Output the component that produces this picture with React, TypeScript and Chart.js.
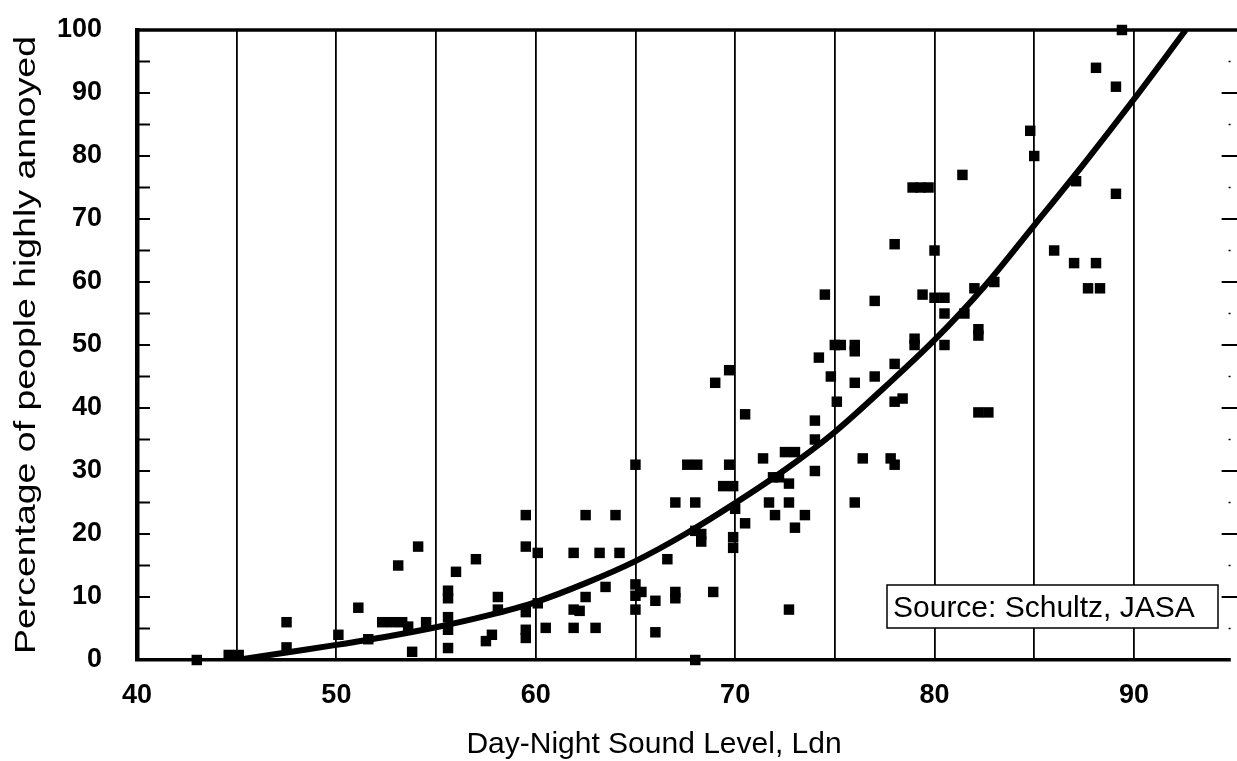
import React, { useEffect, useRef } from "react";
import { Chart, registerables } from "chart.js";

Chart.register(...registerables);

// Observed survey points: Day-Night Sound Level (x) and % highly annoyed (y)
const pointLdn: number[] = [
  43.0, 44.6, 45.1, 47.5, 47.5, 50.1, 51.1, 51.6, 52.3, 52.8, 53.3, 53.1, 53.6, 53.8, 54.1, 54.5,
  55.6, 55.6, 55.6, 55.6, 55.6, 56.0, 57.0, 57.5, 57.8, 58.1, 58.1,
  59.5, 59.5, 59.5, 59.5, 59.5, 60.1, 60.1, 60.5, 61.9, 61.9, 62.2, 61.9, 62.5, 62.5,
  63.0, 63.2, 63.5, 64.0, 64.2, 65.0, 65.0, 65.0, 65.3, 65.0, 66.0, 66.0, 66.6,
  67.0, 67.0, 67.0, 67.6, 68.1, 68.0, 68.0, 68.3, 68.3, 68.0, 68.9,
  69.0, 69.7, 69.7, 69.4, 69.9, 70.0, 69.9, 69.9, 70.5, 70.5, 71.4, 71.7, 71.9, 72.2, 72.0,
  72.5, 73.0, 72.7, 72.7, 72.7, 73.0, 73.5, 74.0, 74.0, 74.0, 74.2, 74.5, 74.8, 75.0, 75.3, 75.1,
  76.0, 76.0, 76.0, 76.0, 76.4, 77.0, 77.0, 77.8, 78.0, 78.0, 78.0, 78.0, 78.4,
  78.9, 79.3, 79.7, 79.0, 79.0, 79.4, 80.0, 80.5, 80.0, 80.5, 80.5, 81.4, 81.5,
  82.0, 83.0, 82.2, 82.2, 82.2, 82.7, 84.8, 85.0, 86.0, 87.0, 88.1, 87.1, 87.7, 88.3,
  88.1, 89.1, 89.1, 89.4,
];
const pointPct: number[] = [
  0, 0.8, 0.8, 2, 6, 4, 8.3, 3.3, 6, 6, 6, 15, 5.3, 1.3, 18, 6,
  11, 9.8, 6.8, 4.8, 1.9, 14, 16, 3, 4, 10, 8,
  23, 18, 7.6, 4.8, 3.5, 17, 9, 5.1, 17, 8, 7.8, 5.1, 23, 10,
  5.1, 17, 11.6, 23, 17, 31, 12, 10.2, 10.8, 8, 9.4, 4.4, 16,
  25, 10.8, 9.8, 31, 31, 25, 20.5, 20, 18.8, 0, 10.8,
  44, 46, 31, 27.6, 27.6, 24, 19.5, 17.8, 39, 21.7, 32, 25, 29, 29, 23,
  33, 33, 28, 25, 8, 21, 23, 38, 35, 30, 48, 58, 45, 50, 50, 41,
  50, 49, 44, 25, 32, 57, 45, 32, 31, 66, 47, 41, 41.5,
  75, 75, 75, 51, 50, 58, 57.5, 57.5, 65, 55, 50, 77, 55,
  59, 60, 52.5, 51.5, 39.3, 39.3, 84, 80, 65, 63, 63, 76, 59, 59,
  94, 91, 74, 100,
];

// Fitted dose-response curve
const curveLdn: number[] = [45, 47.5, 50, 52.5, 55, 57.5, 60, 62.5, 65, 67.5, 70, 72.5, 75, 77.5, 80, 82.5, 85, 87.5, 90, 92.6];
const curvePct: number[] = [0, 1.2, 2.4, 3.7, 5.2, 7.0, 9.2, 12.2, 15.7, 20, 24.9, 30.2, 36.2, 43.3, 50.8, 59.3, 69, 78.8, 89, 100];

const xLabels: number[] = [40, 50, 60, 70, 80, 90];
const xTitle = "Day-Night Sound Level, Ldn";
const yTitle = "Percentage of people highly annoyed";
const sourceNote = "Source: Schultz, JASA";

const FONT = "'Liberation Sans', Arial, Helvetica, sans-serif";

const decorPlugin = {
  id: "decor",
  afterDraw(chart: any) {
    const { ctx, chartArea, scales } = chart;
    const y = scales.y;
    const x = scales.x;
    ctx.save();
    ctx.strokeStyle = "#000";
    // top border
    ctx.lineWidth = 3.5;
    ctx.beginPath();
    ctx.moveTo(chartArea.left - 2, chartArea.top);
    ctx.lineTo(chart.width, chartArea.top);
    ctx.stroke();
    // inward ticks on left axis and right-side ticks
    for (let v = 5; v < 100; v += 5) {
      const py = y.getPixelForValue(v);
      ctx.lineWidth = 2;
      ctx.beginPath();
      ctx.moveTo(chartArea.left, py);
      ctx.lineTo(chartArea.left + 13, py);
      ctx.stroke();
      const major = v % 10 === 0;
      const rx = x.getPixelForValue(major ? 94.4 : 94.75);
      ctx.lineWidth = major ? 2 : 1.5;
      ctx.beginPath();
      ctx.moveTo(rx, py);
      ctx.lineTo(major ? chart.width : rx + 2, py);
      ctx.stroke();
    }
    // source box
    ctx.font = `30px ${FONT}`;
    const bx = 887, by = 585, bw = 331, bh = 43;
    ctx.fillStyle = "#fff";
    ctx.fillRect(bx, by, bw, bh);
    ctx.lineWidth = 1.5;
    ctx.strokeRect(bx, by, bw, bh);
    ctx.fillStyle = "#000";
    ctx.textAlign = "left";
    ctx.textBaseline = "alphabetic";
    ctx.fillText(sourceNote, bx + 6, by + 32);
    // x title
    ctx.font = `30px ${FONT}`;
    ctx.textAlign = "center";
    ctx.fillText(xTitle, 654, 753);
    // y title (rotated, stretched to the measured length)
    ctx.translate(27, 345);
    ctx.rotate(-Math.PI / 2);
    ctx.font = `30px ${FONT}`;
    const w = ctx.measureText(yTitle).width;
    ctx.scale(618 / w, 1);
    ctx.textBaseline = "middle";
    ctx.fillText(yTitle, 0, 0);
    ctx.restore();
  },
};

export default function App() {
  const ref = useRef<HTMLCanvasElement | null>(null);
  useEffect(() => {
    if (!ref.current) return;
    const pts = pointLdn.map((v, i) => ({ x: v, y: pointPct[i] }));
    const curve = curveLdn.map((v, i) => ({ x: v, y: curvePct[i] }));
    const chart = new Chart(ref.current, {
      type: "scatter",
      data: {
        datasets: [
          {
            label: "Survey data",
            data: pts,
            pointStyle: "rect",
            pointRadius: 7.4,
            backgroundColor: "#000",
            borderColor: "#000",
            borderWidth: 0,
            showLine: false,
            clip: false as any,
          },
          {
            label: "Fit",
            type: "line" as any,
            data: curve,
            borderColor: "#000",
            borderWidth: 6,
            pointRadius: 0,
            cubicInterpolationMode: "monotone",
            showLine: true,
            fill: false,
          } as any,
        ],
      },
      options: {
        responsive: false,
        animation: false,
        devicePixelRatio: 1,
        layout: { padding: { top: 30, right: 1, left: 0, bottom: 0 } },
        plugins: { legend: { display: false }, tooltip: { enabled: false } },
        scales: {
          x: {
            type: "linear",
            min: 40,
            max: 94.8,
            afterFit: (s: any) => { s.height = 101; },
            ticks: {
              stepSize: 5,
              includeBounds: false,
              color: "#000",
              font: { family: FONT, size: 27, weight: "bold" },
              padding: 19,
              maxRotation: 0,
              autoSkip: false,
              callback: (v: any) => (xLabels.includes(Number(v)) ? String(v) : ""),
            },
            grid: { color: "#000", lineWidth: 1.8, drawTicks: false },
            border: { display: true, color: "#000", width: 3.5 },
          },
          y: {
            type: "linear",
            min: 0,
            max: 100,
            afterFit: (s: any) => { s.width = 137; s.paddingTop = 0; s.paddingBottom = 0; },
            ticks: {
              stepSize: 10,
              color: "#000",
              font: { family: FONT, size: 27, weight: "bold" },
              padding: 35,
            },
            grid: { display: false, drawTicks: false },
            border: { display: true, color: "#000", width: 4.5 },
          },
        },
      },
      plugins: [decorPlugin],
    });
    return () => chart.destroy();
  }, []);
  return (
    <div style={{ position: "absolute", left: 0, top: 0, width: 1237, height: 761, background: "#fff" }}>
      <canvas ref={ref} width={1237} height={761} />
    </div>
  );
}
